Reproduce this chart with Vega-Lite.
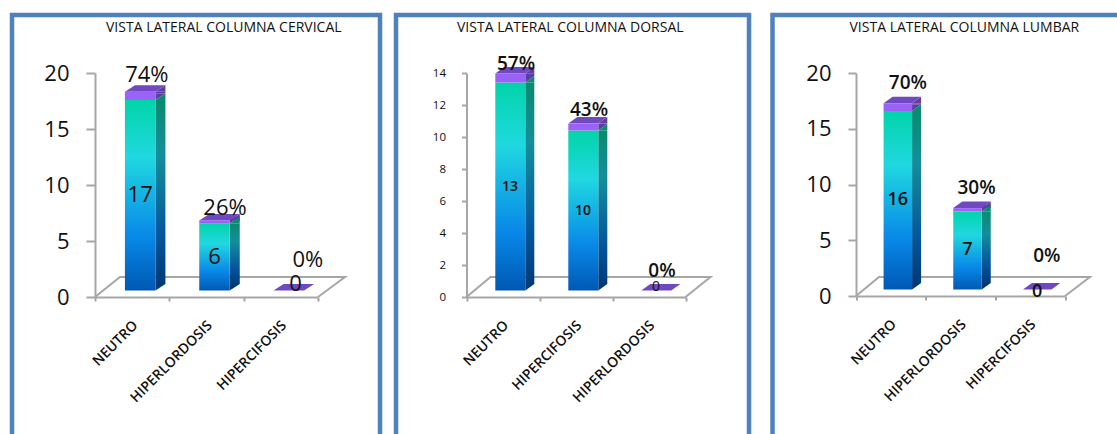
{
  "$schema": "https://vega.github.io/schema/vega-lite/v6.json",
  "background": "white",
  "padding": {"left": 4, "top": 12, "right": 0, "bottom": 0},
  "autosize": {"type": "pad"},
  "spacing": 12.5,
  "config": {
    "view": {"stroke": "#4f81bd", "strokeWidth": 4.5},
    "font": "Open Sans",
    "title": {"font": "Open Sans", "fontSize": 14, "fontWeight": 500, "color": "#111111", "anchor": "start", "frame": "group", "baseline": "middle"},
    "axis": {"title": null, "grid": false, "domainColor": "#a6a6a6", "tickColor": "#a6a6a6", "domainWidth": 2, "tickWidth": 2, "labelFont": "Open Sans", "labelColor": "#111111"},
    "axisX": {"labelAngle": -45, "labelAlign": "right", "labelBaseline": "middle", "tickBand": "extent", "tickSize": 4, "labelFontSize": 14, "labelFontWeight": 600, "labelPadding": 22, "labelOffset": 3},
    "axisY": {"labelPadding": 17}
  },
  "hconcat": [
    {
      "spacing": 5,
      "hconcat": [
        {
          "width": 368,
          "height": 424,
          "title": {"text": "VISTA LATERAL COLUMNA CERVICAL", "dx": 94, "offset": -20},
          "data": {"values": [
            {"categoria": "NEUTRO", "serie": "Casos", "valor": 17},
            {"categoria": "NEUTRO", "serie": "Porcentaje", "valor": 0.74},
            {"categoria": "HIPERLORDOSIS", "serie": "Casos", "valor": 6},
            {"categoria": "HIPERLORDOSIS", "serie": "Porcentaje", "valor": 0.26},
            {"categoria": "HIPERCIFOSIS", "serie": "Casos", "valor": 0},
            {"categoria": "HIPERCIFOSIS", "serie": "Porcentaje", "valor": 0}
          ]},
          "transform": [
            {"stack": "valor", "groupby": ["categoria"], "sort": [{"field": "serie", "order": "ascending"}], "as": ["v0", "v1"]},
            {"calculate": "(datum.v0 + datum.v1) / 2", "as": "medio"},
            {"calculate": "datum.serie == 'Casos' ? format(datum.valor, 'd') : format(datum.valor, '.0%')", "as": "rotulo"}
          ],
          "encoding": {
            "x": {"field": "categoria", "type": "nominal", "sort": null, "scale": {"domain": ["NEUTRO", "HIPERLORDOSIS", "HIPERCIFOSIS"], "range": [83, 306], "paddingInner": 0, "paddingOuter": 0}, "axis": {"offset": -142}},
            "y": {"field": "v1", "type": "quantitative", "scale": {"domain": [0, 20], "range": [282, 58], "nice": false}, "axis": {"values": [0, 5, 10, 15, 20], "offset": -83, "tickSize": 9, "labelFontSize": 22}}
          },
          "layer": [
            {"transform": [{"filter": "datum.categoria == 'NEUTRO' && datum.serie == 'Casos'"}], "mark": {"type": "point", "stroke": "#a6a6a6", "strokeWidth": 2, "opacity": 1, "shape": "M0,0L25,-20L250,-20L223,0", "size": 4, "filled": false}, "encoding": {"x": {"datum": "NEUTRO", "bandPosition": 0}, "y": {"datum": 0}}},
            {"transform": [{"filter": "datum.serie == 'Porcentaje' && datum.valor > 0"}], "mark": {"type": "bar", "fill": "#5c3fa0", "size": 10, "xOffset": 28.25, "yOffset": -6.5, "y2Offset": -13}, "encoding": {"y2": {"field": "v0"}}},
            {"transform": [{"filter": "datum.serie == 'Porcentaje' && datum.valor > 0"}], "mark": {"type": "point", "fill": "#5c3fa0", "opacity": 1, "shape": "M0,0L10,-6.5L10,0Z", "size": 4, "filled": true, "xOffset": 23.25, "yOffset": -6.5}},
            {"transform": [{"filter": "datum.serie == 'Porcentaje' && datum.valor > 0"}], "mark": {"type": "point", "fill": "#5c3fa0", "opacity": 1, "shape": "M0,0L0,-6.5L10,-6.5Z", "size": 4, "filled": true, "xOffset": 23.25, "yOffset": -6.5}, "encoding": {"y": {"field": "v0", "type": "quantitative"}}},
            {"transform": [{"filter": "datum.serie == 'Casos' && datum.valor > 0"}], "mark": {"type": "bar", "fill": {"gradient": "linear", "x1": 0, "y1": 0, "x2": 0, "y2": 1, "stops": [{"offset": 0, "color": "#0a8a70"}, {"offset": 0.3, "color": "#148e9a"}, {"offset": 0.72, "color": "#05589c"}, {"offset": 1, "color": "#003a78"}]}, "size": 10, "xOffset": 28.25, "yOffset": -6.5, "y2Offset": -13}, "encoding": {"y2": {"field": "v0"}}},
            {"transform": [{"filter": "datum.serie == 'Casos' && datum.valor > 0"}], "mark": {"type": "point", "fill": "#0a8a70", "opacity": 1, "shape": "M0,0L10,-6.5L10,0Z", "size": 4, "filled": true, "xOffset": 23.25, "yOffset": -6.5}},
            {"transform": [{"filter": "datum.serie == 'Casos' && datum.valor > 0"}], "mark": {"type": "point", "fill": "#003a78", "opacity": 1, "shape": "M0,0L0,-6.5L10,-6.5Z", "size": 4, "filled": true, "xOffset": 23.25, "yOffset": -6.5}, "encoding": {"y": {"field": "v0", "type": "quantitative"}}},
            {"transform": [{"filter": "datum.serie == 'Porcentaje'"}], "mark": {"type": "point", "fill": "#7048c0", "opacity": 1, "shape": "M0,0L10,-6.5L-20.5,-6.5L-30.5,0Z", "size": 4, "filled": true, "xOffset": 23.25, "yOffset": -6.5}},
            {"transform": [{"filter": "datum.serie == 'Casos' && datum.valor > 0"}], "mark": {"type": "bar", "fill": {"gradient": "linear", "x1": 0, "y1": 0, "x2": 0, "y2": 1, "stops": [{"offset": 0, "color": "#00d4a8"}, {"offset": 0.3, "color": "#20d8e0"}, {"offset": 0.72, "color": "#0888e8"}, {"offset": 1, "color": "#0058b4"}]}, "size": 30.5, "xOffset": 8, "yOffset": -6.5, "y2Offset": -6.5}, "encoding": {"y2": {"field": "v0"}}},
            {"transform": [{"filter": "datum.serie == 'Porcentaje' && datum.valor > 0"}], "mark": {"type": "bar", "fill": "#9a63f5", "size": 30.5, "xOffset": 8, "yOffset": -6.5, "y2Offset": -6.5}, "encoding": {"y2": {"field": "v0"}}},
            {"transform": [{"filter": "datum.serie == 'Casos' && datum.valor > 0"}], "mark": {"type": "text", "fontSize": 22, "color": "#111111", "baseline": "middle", "xOffset": 8, "yOffset": -6.5}, "encoding": {"y": {"field": "medio", "type": "quantitative"}, "text": {"field": "rotulo"}}},
            {"transform": [{"filter": "datum.serie == 'Casos' && datum.valor == 0"}], "mark": {"type": "text", "fontSize": 22, "color": "#111111", "baseline": "middle", "xOffset": 14.7, "yOffset": -12.7}, "encoding": {"y": {"field": "medio", "type": "quantitative"}, "text": {"field": "rotulo"}}},
            {"transform": [{"filter": "datum.serie == 'Porcentaje' && datum.categoria == 'NEUTRO'"}], "mark": {"type": "text", "fontSize": 22, "color": "#111111", "baseline": "middle", "xOffset": 14.7, "yOffset": -23}, "encoding": {"text": {"field": "rotulo"}}},
            {"transform": [{"filter": "datum.serie == 'Porcentaje' && datum.categoria == 'HIPERLORDOSIS'"}], "mark": {"type": "text", "fontSize": 22, "color": "#111111", "baseline": "middle", "xOffset": 18.5, "yOffset": -18.6}, "encoding": {"text": {"field": "rotulo"}}},
            {"transform": [{"filter": "datum.serie == 'Porcentaje' && datum.categoria == 'HIPERCIFOSIS'"}], "mark": {"type": "text", "fontSize": 22, "color": "#111111", "baseline": "middle", "xOffset": 27, "yOffset": -36.7}, "encoding": {"text": {"field": "rotulo"}}}
          ]
        },
        {
          "width": 353,
          "height": 424,
          "title": {"text": "VISTA LATERAL  COLUMNA  DORSAL", "dx": 61, "offset": -20},
          "data": {"values": [
            {"categoria": "NEUTRO", "serie": "Casos", "valor": 13},
            {"categoria": "NEUTRO", "serie": "Porcentaje", "valor": 0.57},
            {"categoria": "HIPERCIFOSIS", "serie": "Casos", "valor": 10},
            {"categoria": "HIPERCIFOSIS", "serie": "Porcentaje", "valor": 0.43},
            {"categoria": "HIPERLORDOSIS", "serie": "Casos", "valor": 0},
            {"categoria": "HIPERLORDOSIS", "serie": "Porcentaje", "valor": 0}
          ]},
          "transform": [
            {"stack": "valor", "groupby": ["categoria"], "sort": [{"field": "serie", "order": "ascending"}], "as": ["v0", "v1"]},
            {"calculate": "(datum.v0 + datum.v1) / 2", "as": "medio"},
            {"calculate": "datum.serie == 'Casos' ? format(datum.valor, 'd') : format(datum.valor, '.0%')", "as": "rotulo"}
          ],
          "encoding": {
            "x": {"field": "categoria", "type": "nominal", "sort": null, "scale": {"domain": ["NEUTRO", "HIPERCIFOSIS", "HIPERLORDOSIS"], "range": [70.5, 289.5], "paddingInner": 0, "paddingOuter": 0}, "axis": {"offset": -142}},
            "y": {"field": "v1", "type": "quantitative", "scale": {"domain": [0, 14], "range": [282, 58], "nice": false}, "axis": {"values": [0, 2, 4, 6, 8, 10, 12, 14], "offset": -70.5, "tickSize": 5, "labelFontSize": 11.5, "labelPadding": 16}}
          },
          "layer": [
            {"transform": [{"filter": "datum.categoria == 'NEUTRO' && datum.serie == 'Casos'"}], "mark": {"type": "point", "stroke": "#a6a6a6", "strokeWidth": 2, "opacity": 1, "shape": "M0,0L24,-20L244,-20L219,0", "size": 4, "filled": false}, "encoding": {"x": {"datum": "NEUTRO", "bandPosition": 0}, "y": {"datum": 0}}},
            {"transform": [{"filter": "datum.serie == 'Porcentaje' && datum.valor > 0"}], "mark": {"type": "bar", "fill": "#5c3fa0", "size": 9, "xOffset": 26.8, "yOffset": -6.5, "y2Offset": -13}, "encoding": {"y2": {"field": "v0"}}},
            {"transform": [{"filter": "datum.serie == 'Porcentaje' && datum.valor > 0"}], "mark": {"type": "point", "fill": "#5c3fa0", "opacity": 1, "shape": "M0,0L9,-6.5L9,0Z", "size": 4, "filled": true, "xOffset": 22.3, "yOffset": -6.5}},
            {"transform": [{"filter": "datum.serie == 'Porcentaje' && datum.valor > 0"}], "mark": {"type": "point", "fill": "#5c3fa0", "opacity": 1, "shape": "M0,0L0,-6.5L9,-6.5Z", "size": 4, "filled": true, "xOffset": 22.3, "yOffset": -6.5}, "encoding": {"y": {"field": "v0", "type": "quantitative"}}},
            {"transform": [{"filter": "datum.serie == 'Casos' && datum.valor > 0"}], "mark": {"type": "bar", "fill": {"gradient": "linear", "x1": 0, "y1": 0, "x2": 0, "y2": 1, "stops": [{"offset": 0, "color": "#0a8a70"}, {"offset": 0.3, "color": "#148e9a"}, {"offset": 0.72, "color": "#05589c"}, {"offset": 1, "color": "#003a78"}]}, "size": 9, "xOffset": 26.8, "yOffset": -6.5, "y2Offset": -13}, "encoding": {"y2": {"field": "v0"}}},
            {"transform": [{"filter": "datum.serie == 'Casos' && datum.valor > 0"}], "mark": {"type": "point", "fill": "#0a8a70", "opacity": 1, "shape": "M0,0L9,-6.5L9,0Z", "size": 4, "filled": true, "xOffset": 22.3, "yOffset": -6.5}},
            {"transform": [{"filter": "datum.serie == 'Casos' && datum.valor > 0"}], "mark": {"type": "point", "fill": "#003a78", "opacity": 1, "shape": "M0,0L0,-6.5L9,-6.5Z", "size": 4, "filled": true, "xOffset": 22.3, "yOffset": -6.5}, "encoding": {"y": {"field": "v0", "type": "quantitative"}}},
            {"transform": [{"filter": "datum.serie == 'Porcentaje'"}], "mark": {"type": "point", "fill": "#7048c0", "opacity": 1, "shape": "M0,0L9,-6.5L-21,-6.5L-30,0Z", "size": 4, "filled": true, "xOffset": 22.3, "yOffset": -6.5}},
            {"transform": [{"filter": "datum.serie == 'Casos' && datum.valor > 0"}], "mark": {"type": "bar", "fill": {"gradient": "linear", "x1": 0, "y1": 0, "x2": 0, "y2": 1, "stops": [{"offset": 0, "color": "#00d4a8"}, {"offset": 0.3, "color": "#20d8e0"}, {"offset": 0.72, "color": "#0888e8"}, {"offset": 1, "color": "#0058b4"}]}, "size": 30, "xOffset": 7.3, "yOffset": -6.5, "y2Offset": -6.5}, "encoding": {"y2": {"field": "v0"}}},
            {"transform": [{"filter": "datum.serie == 'Porcentaje' && datum.valor > 0"}], "mark": {"type": "bar", "fill": "#9a63f5", "size": 30, "xOffset": 7.3, "yOffset": -6.5, "y2Offset": -6.5}, "encoding": {"y2": {"field": "v0"}}},
            {"transform": [{"filter": "datum.serie == 'Casos' && datum.valor > 0"}], "mark": {"type": "text", "fontSize": 14, "fontWeight": 600, "color": "#111111", "baseline": "middle", "xOffset": 7, "yOffset": -6.5}, "encoding": {"y": {"field": "medio", "type": "quantitative"}, "text": {"field": "rotulo"}}},
            {"transform": [{"filter": "datum.serie == 'Casos' && datum.valor == 0"}], "mark": {"type": "text", "fontSize": 14, "color": "#111111", "baseline": "middle", "xOffset": 7, "yOffset": -10}, "encoding": {"y": {"field": "medio", "type": "quantitative"}, "text": {"field": "rotulo"}}},
            {"transform": [{"filter": "datum.serie == 'Porcentaje' && datum.categoria == 'NEUTRO'"}], "mark": {"type": "text", "fontSize": 19, "fontWeight": 600, "color": "#111111", "baseline": "middle", "xOffset": 13, "yOffset": -16}, "encoding": {"text": {"field": "rotulo"}}},
            {"transform": [{"filter": "datum.serie == 'Porcentaje' && datum.categoria == 'HIPERCIFOSIS'"}], "mark": {"type": "text", "fontSize": 19, "fontWeight": 600, "color": "#111111", "baseline": "middle", "xOffset": 13, "yOffset": -19.8}, "encoding": {"text": {"field": "rotulo"}}},
            {"transform": [{"filter": "datum.serie == 'Porcentaje' && datum.categoria == 'HIPERLORDOSIS'"}], "mark": {"type": "text", "fontSize": 19, "fontWeight": 600, "color": "#111111", "baseline": "middle", "xOffset": 13, "yOffset": -25.7}, "encoding": {"text": {"field": "rotulo"}}}
          ]
        }
      ]
    },
    {
      "width": 362,
      "height": 424,
      "title": {"text": "VISTA LATERAL COLUMNA LUMBAR", "dx": 77, "offset": -20},
      "data": {"values": [
        {"categoria": "NEUTRO", "serie": "Casos", "valor": 16},
        {"categoria": "NEUTRO", "serie": "Porcentaje", "valor": 0.7},
        {"categoria": "HIPERLORDOSIS", "serie": "Casos", "valor": 7},
        {"categoria": "HIPERLORDOSIS", "serie": "Porcentaje", "valor": 0.3},
        {"categoria": "HIPERCIFOSIS", "serie": "Casos", "valor": 0},
        {"categoria": "HIPERCIFOSIS", "serie": "Porcentaje", "valor": 0}
      ]},
      "transform": [
        {"stack": "valor", "groupby": ["categoria"], "sort": [{"field": "serie", "order": "ascending"}], "as": ["v0", "v1"]},
        {"calculate": "(datum.v0 + datum.v1) / 2", "as": "medio"},
        {"calculate": "datum.serie == 'Casos' ? format(datum.valor, 'd') : format(datum.valor, '.0%')", "as": "rotulo"}
      ],
      "encoding": {
        "x": {"field": "categoria", "type": "nominal", "sort": null, "scale": {"domain": ["NEUTRO", "HIPERLORDOSIS", "HIPERCIFOSIS"], "range": [83.5, 292.5], "paddingInner": 0, "paddingOuter": 0}, "axis": {"offset": -143}},
        "y": {"field": "v1", "type": "quantitative", "scale": {"domain": [0, 20], "range": [281, 58], "nice": false}, "axis": {"values": [0, 5, 10, 15, 20], "offset": -83.5, "tickSize": 8, "labelFontSize": 22}}
      },
      "layer": [
        {"transform": [{"filter": "datum.categoria == 'NEUTRO' && datum.serie == 'Casos'"}], "mark": {"type": "point", "stroke": "#a6a6a6", "strokeWidth": 2, "opacity": 1, "shape": "M0,0L23,-19L234,-19L209,0", "size": 4, "filled": false}, "encoding": {"x": {"datum": "NEUTRO", "bandPosition": 0}, "y": {"datum": 0}}},
        {"transform": [{"filter": "datum.serie == 'Porcentaje' && datum.valor > 0"}], "mark": {"type": "bar", "fill": "#5c3fa0", "size": 9, "xOffset": 25.75, "yOffset": -6.5, "y2Offset": -13}, "encoding": {"y2": {"field": "v0"}}},
        {"transform": [{"filter": "datum.serie == 'Porcentaje' && datum.valor > 0"}], "mark": {"type": "point", "fill": "#5c3fa0", "opacity": 1, "shape": "M0,0L9,-6.5L9,0Z", "size": 4, "filled": true, "xOffset": 21.25, "yOffset": -6.5}},
        {"transform": [{"filter": "datum.serie == 'Porcentaje' && datum.valor > 0"}], "mark": {"type": "point", "fill": "#5c3fa0", "opacity": 1, "shape": "M0,0L0,-6.5L9,-6.5Z", "size": 4, "filled": true, "xOffset": 21.25, "yOffset": -6.5}, "encoding": {"y": {"field": "v0", "type": "quantitative"}}},
        {"transform": [{"filter": "datum.serie == 'Casos' && datum.valor > 0"}], "mark": {"type": "bar", "fill": {"gradient": "linear", "x1": 0, "y1": 0, "x2": 0, "y2": 1, "stops": [{"offset": 0, "color": "#0a8a70"}, {"offset": 0.3, "color": "#148e9a"}, {"offset": 0.72, "color": "#05589c"}, {"offset": 1, "color": "#003a78"}]}, "size": 9, "xOffset": 25.75, "yOffset": -6.5, "y2Offset": -13}, "encoding": {"y2": {"field": "v0"}}},
        {"transform": [{"filter": "datum.serie == 'Casos' && datum.valor > 0"}], "mark": {"type": "point", "fill": "#0a8a70", "opacity": 1, "shape": "M0,0L9,-6.5L9,0Z", "size": 4, "filled": true, "xOffset": 21.25, "yOffset": -6.5}},
        {"transform": [{"filter": "datum.serie == 'Casos' && datum.valor > 0"}], "mark": {"type": "point", "fill": "#003a78", "opacity": 1, "shape": "M0,0L0,-6.5L9,-6.5Z", "size": 4, "filled": true, "xOffset": 21.25, "yOffset": -6.5}, "encoding": {"y": {"field": "v0", "type": "quantitative"}}},
        {"transform": [{"filter": "datum.serie == 'Porcentaje'"}], "mark": {"type": "point", "fill": "#7048c0", "opacity": 1, "shape": "M0,0L9,-6.5L-19.5,-6.5L-28.5,0Z", "size": 4, "filled": true, "xOffset": 21.25, "yOffset": -6.5}},
        {"transform": [{"filter": "datum.serie == 'Casos' && datum.valor > 0"}], "mark": {"type": "bar", "fill": {"gradient": "linear", "x1": 0, "y1": 0, "x2": 0, "y2": 1, "stops": [{"offset": 0, "color": "#00d4a8"}, {"offset": 0.3, "color": "#20d8e0"}, {"offset": 0.72, "color": "#0888e8"}, {"offset": 1, "color": "#0058b4"}]}, "size": 28.5, "xOffset": 7, "yOffset": -6.5, "y2Offset": -6.5}, "encoding": {"y2": {"field": "v0"}}},
        {"transform": [{"filter": "datum.serie == 'Porcentaje' && datum.valor > 0"}], "mark": {"type": "bar", "fill": "#9a63f5", "size": 28.5, "xOffset": 7, "yOffset": -6.5, "y2Offset": -6.5}, "encoding": {"y2": {"field": "v0"}}},
        {"transform": [{"filter": "datum.serie == 'Casos' && datum.valor > 0"}], "mark": {"type": "text", "fontSize": 18, "fontWeight": 600, "color": "#111111", "baseline": "middle", "xOffset": 7, "yOffset": -6.5}, "encoding": {"y": {"field": "medio", "type": "quantitative"}, "text": {"field": "rotulo"}}},
        {"transform": [{"filter": "datum.serie == 'Casos' && datum.valor == 0"}], "mark": {"type": "text", "fontSize": 18, "fontWeight": 600, "color": "#111111", "baseline": "middle", "xOffset": 7, "yOffset": -4}, "encoding": {"y": {"field": "medio", "type": "quantitative"}, "text": {"field": "rotulo"}}},
        {"transform": [{"filter": "datum.serie == 'Porcentaje' && datum.categoria == 'NEUTRO'"}], "mark": {"type": "text", "fontSize": 19, "fontWeight": 600, "color": "#111111", "baseline": "middle", "xOffset": 17, "yOffset": -27}, "encoding": {"text": {"field": "rotulo"}}},
        {"transform": [{"filter": "datum.serie == 'Porcentaje' && datum.categoria == 'HIPERLORDOSIS'"}], "mark": {"type": "text", "fontSize": 19, "fontWeight": 600, "color": "#111111", "baseline": "middle", "xOffset": 16, "yOffset": -27}, "encoding": {"text": {"field": "rotulo"}}},
        {"transform": [{"filter": "datum.serie == 'Porcentaje' && datum.categoria == 'HIPERCIFOSIS'"}], "mark": {"type": "text", "fontSize": 19, "fontWeight": 600, "color": "#111111", "baseline": "middle", "xOffset": 16.7, "yOffset": -40}, "encoding": {"text": {"field": "rotulo"}}}
      ]
    }
  ]
}
